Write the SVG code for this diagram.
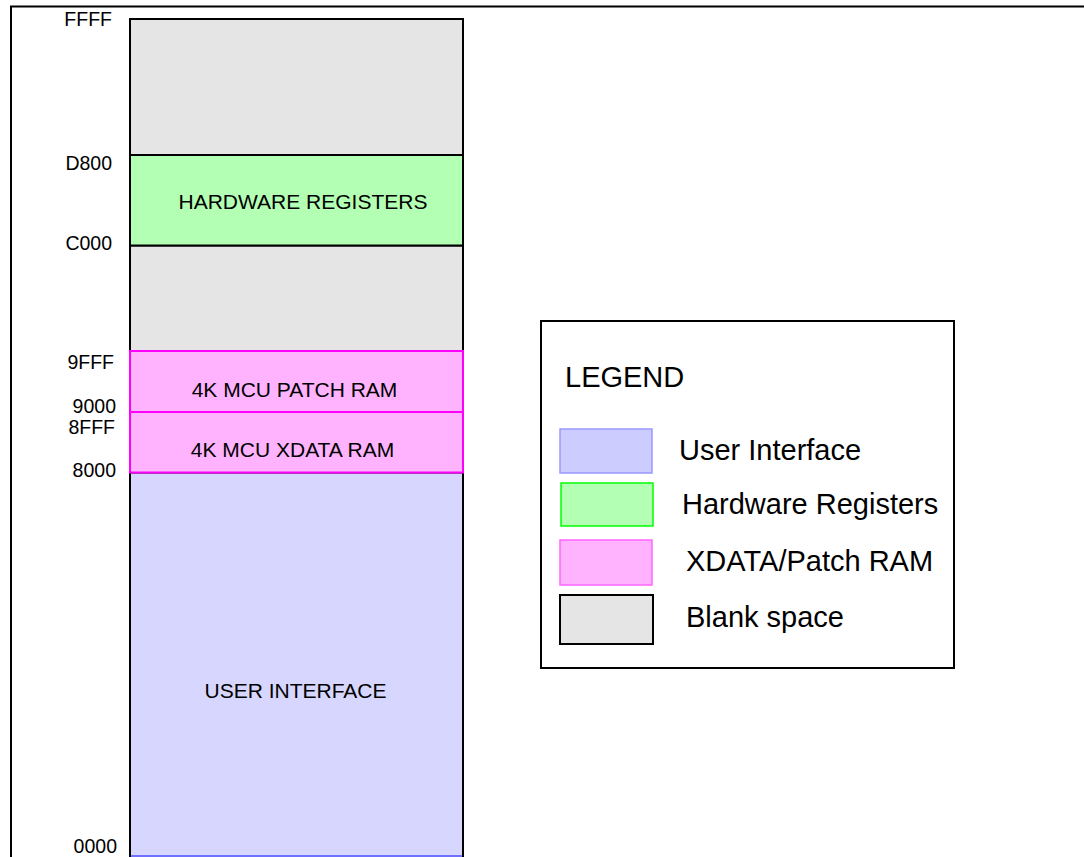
<svg xmlns="http://www.w3.org/2000/svg" width="1084" height="857" viewBox="0 0 1084 857">
<style>
text{font-family:"Liberation Sans",Arial,sans-serif;fill:#000}
.lab{font-size:19.5px;text-anchor:end}
.in{font-size:21px}
.lg{font-size:29px}
</style>
<rect x="0" y="0" width="1084" height="857" fill="#fff"/>
<g id="frame">
<line x1="10" y1="6.5" x2="1084" y2="6.5" stroke="#000" stroke-width="2"/>
<line x1="11" y1="6" x2="11" y2="857" stroke="#000" stroke-width="2"/>
</g>
<g id="blank-top"><rect x="130" y="19" width="333" height="136" fill="#e5e5e5" stroke="#000" stroke-width="2"/></g>
<g id="blank-mid"><rect x="130" y="245.5" width="333" height="105.5" fill="#e5e5e5" stroke="#000" stroke-width="2"/></g>
<g id="user-interface">
<rect x="130" y="472.5" width="333" height="390" fill="#d6d6ff" stroke="#000" stroke-width="2"/>
<line x1="131" y1="856" x2="462" y2="856" stroke="#7070ff" stroke-width="2"/>
<text class="in" x="295.5" y="698" text-anchor="middle">USER INTERFACE</text>
</g>
<g id="hardware-registers">
<rect x="130" y="155" width="333" height="90.5" fill="#b3ffb3" stroke="#000" stroke-width="2"/>
<text class="in" x="303" y="209" text-anchor="middle">HARDWARE REGISTERS</text>
</g>
<g id="patch-ram">
<rect x="130" y="351" width="333" height="61" fill="#ffb3ff" stroke="#ff00ff" stroke-width="2"/>
<text class="in" x="294.5" y="397" text-anchor="middle">4K MCU PATCH RAM</text>
</g>
<g id="xdata-ram">
<rect x="130" y="412" width="333" height="60.5" fill="#ffb3ff" stroke="#ff00ff" stroke-width="2"/>
<text class="in" x="292.5" y="457" text-anchor="middle">4K MCU XDATA RAM</text>
</g>
<g id="addresses">
<text class="lab" x="112" y="26">FFFF</text>
<text class="lab" x="112" y="170">D800</text>
<text class="lab" x="112" y="250">C000</text>
<text class="lab" x="114" y="369">9FFF</text>
<text class="lab" x="116" y="413">9000</text>
<text class="lab" x="115" y="434">8FFF</text>
<text class="lab" x="116" y="477">8000</text>
<text class="lab" x="117" y="853">0000</text>
</g>
<g id="legend">
<rect x="541" y="321" width="413" height="347" fill="#fff" stroke="#000" stroke-width="2"/>
<text class="lg" x="565" y="387">LEGEND</text>
<rect x="560" y="429" width="92" height="44" fill="#ccccff" stroke="#9999ff" stroke-width="1.5"/>
<text class="lg" x="679" y="460">User Interface</text>
<rect x="561" y="483" width="92" height="43" fill="#b3ffb3" stroke="#00ff00" stroke-width="1.5"/>
<text class="lg" x="682" y="514">Hardware Registers</text>
<rect x="560" y="540" width="92" height="45" fill="#ffb3ff" stroke="#ff66ff" stroke-width="1.5"/>
<text class="lg" x="686" y="571">XDATA/Patch RAM</text>
<rect x="560" y="595" width="93" height="49" fill="#e5e5e5" stroke="#000" stroke-width="2"/>
<text class="lg" x="686" y="627">Blank space</text>
</g>
<g id="connectors"/>
</svg>
